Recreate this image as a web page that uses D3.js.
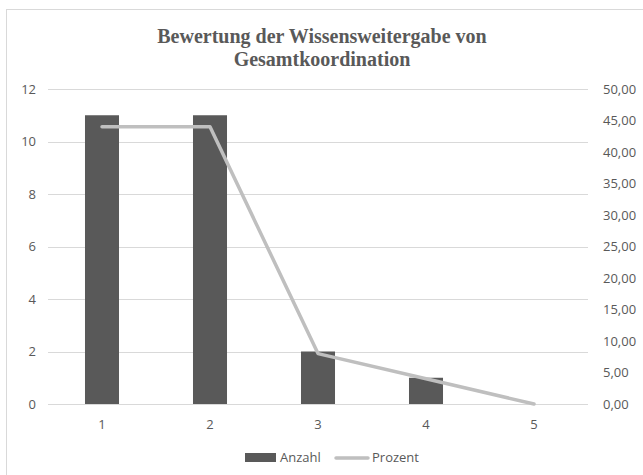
<!DOCTYPE html>
<html lang="de">
<head>
    <meta charset="UTF-8">
    <title>Bewertung der Wissensweitergabe von Gesamtkoordination</title>
    <script src="https://cdn.jsdelivr.net/npm/d3@7"></script>
    <style>
        body { margin: 0; background: #fff; }
        svg text { font-family: "Open Sans", Roboto, sans-serif; fill: #595959; }
        .title { font-family: "Liberation Serif", "DejaVu Serif", serif; font-weight: bold; }
    </style>
</head>
<body>
    <div id="chart"></div>
    <script>
        // data
        const categories = ["1", "2", "3", "4", "5"];
        const anzahl = [11, 11, 2, 1, 0];
        const prozent = [44, 44, 8, 4, 0];
        const leftTicks = [0, 2, 4, 6, 8, 10, 12];
        const rightTicks = [0, 5, 10, 15, 20, 25, 30, 35, 40, 45, 50];

        const width = 643, height = 475;
        const margin = { top: 89, right: 55, bottom: 71, left: 48 };

        const svg = d3.select("#chart").append("svg")
            .attr("width", width)
            .attr("height", height);

        // chart frame
        svg.append("rect")
            .attr("x", 6.5).attr("y", 9.5)
            .attr("width", 660).attr("height", 480)
            .attr("fill", "none")
            .attr("stroke", "#d9d9d9");

        const x = d3.scaleBand()
            .domain(categories)
            .range([margin.left, width - margin.right])
            .paddingInner(0.685)
            .paddingOuter(0.3425);

        const xPoint = d3.scalePoint()
            .domain(categories)
            .range([margin.left, width - margin.right])
            .padding(0.5);

        const yLeft = d3.scaleLinear().domain([0, 12]).range([height - margin.bottom, margin.top]);
        const yRight = d3.scaleLinear().domain([0, 50]).range([height - margin.bottom, margin.top]);

        // gridlines
        svg.append("g")
            .selectAll("line")
            .data(leftTicks)
            .join("line")
            .attr("x1", margin.left)
            .attr("x2", width - margin.right)
            .attr("y1", d => Math.round(yLeft(d)) + 0.5)
            .attr("y2", d => Math.round(yLeft(d)) + 0.5)
            .attr("stroke", "#d9d9d9")
            .attr("stroke-width", 1);

        // left axis labels
        svg.append("g")
            .selectAll("text")
            .data(leftTicks)
            .join("text")
            .attr("x", 36)
            .attr("y", d => yLeft(d))
            .attr("dy", "0.35em")
            .attr("text-anchor", "end")
            .attr("font-size", 13)
            .text(d => d);

        // right axis labels
        const fmt = d => d3.format(".2f")(d).replace(".", ",");
        svg.append("g")
            .selectAll("text")
            .data(rightTicks)
            .join("text")
            .attr("x", 603)
            .attr("y", d => yRight(d))
            .attr("dy", "0.35em")
            .attr("text-anchor", "start")
            .attr("font-size", 13)
            .text(fmt);

        // bars
        svg.append("g")
            .selectAll("rect")
            .data(anzahl)
            .join("rect")
            .attr("x", (d, i) => x(categories[i]))
            .attr("width", x.bandwidth())
            .attr("y", d => yLeft(d))
            .attr("height", d => yLeft(0) - yLeft(d))
            .attr("fill", "#595959");

        // line
        const line = d3.line()
            .x((d, i) => xPoint(categories[i]))
            .y(d => yRight(d));

        svg.append("path")
            .datum(prozent)
            .attr("d", line)
            .attr("fill", "none")
            .attr("stroke", "#bfbfbf")
            .attr("stroke-width", 3.5)
            .attr("stroke-linecap", "round")
            .attr("stroke-linejoin", "round");

        // x labels
        svg.append("g")
            .selectAll("text")
            .data(categories)
            .join("text")
            .attr("x", d => xPoint(d))
            .attr("y", 429)
            .attr("text-anchor", "middle")
            .attr("font-size", 13)
            .text(d => d);

        // title
        const title = svg.append("text")
            .attr("class", "title")
            .attr("x", 322)
            .attr("text-anchor", "middle")
            .attr("font-size", 20);
        title.append("tspan").attr("x", 322).attr("y", 43).text("Bewertung der Wissensweitergabe von");
        title.append("tspan").attr("x", 322).attr("y", 66).text("Gesamtkoordination");

        // legend
        const legend = svg.append("g");
        legend.append("rect")
            .attr("x", 245).attr("y", 453)
            .attr("width", 31).attr("height", 9)
            .attr("fill", "#595959");
        legend.append("text")
            .attr("x", 280).attr("y", 462)
            .attr("font-size", 13)
            .text("Anzahl");
        legend.append("line")
            .attr("x1", 336).attr("x2", 368)
            .attr("y1", 458).attr("y2", 458)
            .attr("stroke", "#bfbfbf")
            .attr("stroke-width", 3.5)
            .attr("stroke-linecap", "round");
        legend.append("text")
            .attr("x", 372).attr("y", 462)
            .attr("font-size", 13)
            .text("Prozent");
    </script>
</body>
</html>
